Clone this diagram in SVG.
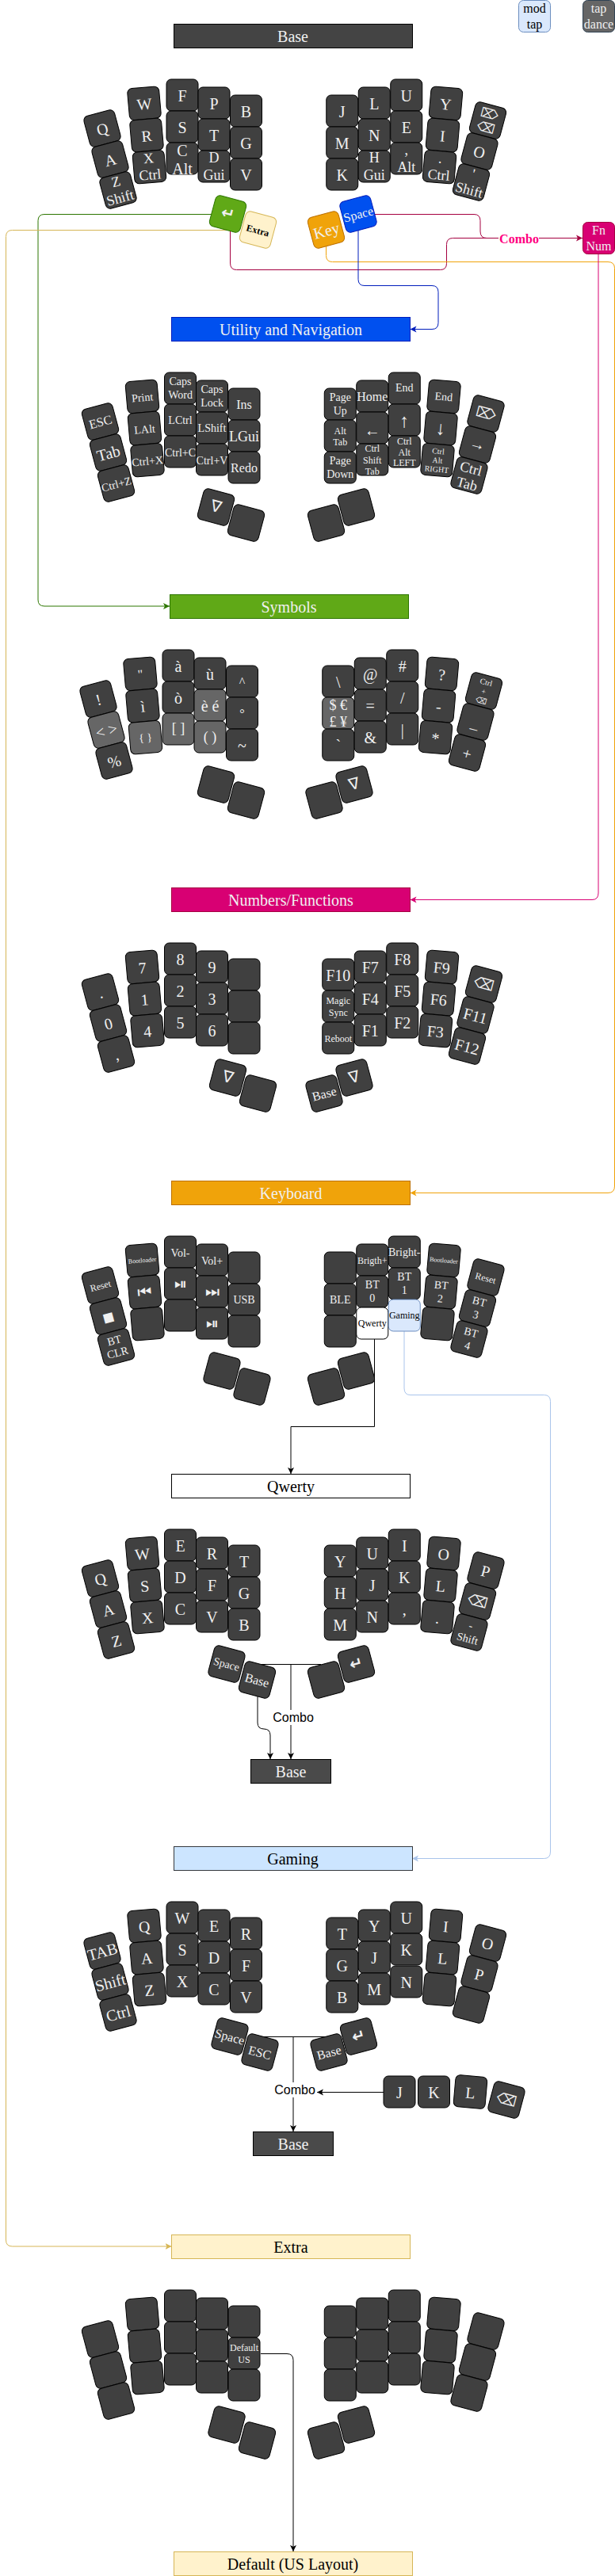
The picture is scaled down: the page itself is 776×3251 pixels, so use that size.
<svg xmlns="http://www.w3.org/2000/svg" width="776" height="3251" viewBox="0 0 776 3251">
<style>
text{font-family:"Liberation Serif","DejaVu Sans",serif;font-size:20px;fill:#f0f0f0;text-anchor:middle}
.k rect{fill:#404040;stroke:#000;stroke-width:1}
.k.lt rect{fill:#666}
.s8{font-size:8px}.s10{font-size:10px}.s12{font-size:12px}.s14{font-size:14px}.s16{font-size:16px}.s18{font-size:18px}.s24{font-size:24px}
.sym{font-family:"DejaVu Sans","Liberation Serif",sans-serif}
.b{font-weight:bold}
.blk{fill:#000}
.h rect{stroke-width:1}
#connectors path{fill:none;stroke-width:1}
.lbl{font-family:"Liberation Sans",sans-serif;font-size:16px;fill:#000}
</style>
<defs>
<marker id="a-k" markerUnits="userSpaceOnUse" markerWidth="9" markerHeight="9" refX="8" refY="4.5" orient="auto"><path d="M0 0.5L8 4.5L0 8.5L2 4.5Z" fill="#000"/></marker>
<marker id="a-g" markerUnits="userSpaceOnUse" markerWidth="9" markerHeight="9" refX="8" refY="4.5" orient="auto"><path d="M0 0.5L8 4.5L0 8.5L2 4.5Z" fill="#2d7600"/></marker>
<marker id="a-y" markerUnits="userSpaceOnUse" markerWidth="9" markerHeight="9" refX="8" refY="4.5" orient="auto"><path d="M0 0.5L8 4.5L0 8.5L2 4.5Z" fill="#d6b656"/></marker>
<marker id="a-o" markerUnits="userSpaceOnUse" markerWidth="9" markerHeight="9" refX="8" refY="4.5" orient="auto"><path d="M0 0.5L8 4.5L0 8.5L2 4.5Z" fill="#f0a30a"/></marker>
<marker id="a-u" markerUnits="userSpaceOnUse" markerWidth="9" markerHeight="9" refX="8" refY="4.5" orient="auto"><path d="M0 0.5L8 4.5L0 8.5L2 4.5Z" fill="#001dbc"/></marker>
<marker id="a-p" markerUnits="userSpaceOnUse" markerWidth="9" markerHeight="9" refX="8" refY="4.5" orient="auto"><path d="M0 0.5L8 4.5L0 8.5L2 4.5Z" fill="#a50040"/></marker>
<marker id="a-m" markerUnits="userSpaceOnUse" markerWidth="9" markerHeight="9" refX="8" refY="4.5" orient="auto"><path d="M0 0.5L8 4.5L0 8.5L2 4.5Z" fill="#d80073"/></marker>
<marker id="a-l" markerUnits="userSpaceOnUse" markerWidth="9" markerHeight="9" refX="8" refY="4.5" orient="auto"><path d="M0 0.5L8 4.5L0 8.5L2 4.5Z" fill="#a9c4eb"/></marker>
</defs>
<g id="connectors">
<path stroke="#2d7600" marker-end="url(#a-g)" d="M270 270.5H56Q48 270.5 48 278.5V757Q48 765 56 765H214"/>
<path stroke="#d6b656" marker-end="url(#a-y)" d="M295 290.5H15.5Q7.5 290.5 7.5 298.5V2827Q7.5 2835 15.5 2835H216.5"/>
<path stroke="#a50040" marker-end="url(#a-p)" d="M465 270.5H598Q606 270.5 606 278.5V292Q606 300.5 614 300.5H735"/>
<path stroke="#a50040" d="M290.5 280V332Q290.5 340.5 298.5 340.5H555.5Q563.5 340.5 563.5 332.5V308.5Q563.5 300.5 571.5 300.5H620"/>
<path stroke="#f0a30a" marker-end="url(#a-o)" d="M411.5 305V322.5Q411.5 330.5 419.5 330.5H767Q775.5 330.5 775.5 338.5V1497Q775.5 1505.5 767 1505.5H517.5"/>
<path stroke="#001dbc" marker-end="url(#a-u)" d="M452 285V352.5Q452 360.5 460 360.5H545Q553 360.5 553 368.5V407.5Q553 415.5 545 415.5H517.5"/>
<path stroke="#d80073" marker-end="url(#a-m)" d="M755 320V1127Q755 1135.5 747 1135.5H517.5"/>
<path stroke="#000" marker-end="url(#a-k)" d="M472.5 1690V1800.5H367V1860"/>
<path stroke="#a9c4eb" marker-end="url(#a-l)" d="M510 1680V1752Q510 1760.5 518 1760.5H686.5Q694.5 1760.5 694.5 1768.5V2337Q694.5 2345.5 686.5 2345.5H520"/>
<path stroke="#000" d="M330 2100.5H405"/>
<path stroke="#000" marker-end="url(#a-k)" d="M367 2100.5V2220"/>
<path stroke="#000" marker-end="url(#a-k)" d="M325 2130V2174Q325 2182 333 2182Q341 2182 341 2190V2220"/>
<path stroke="#000" d="M330 2570.5H415"/>
<path stroke="#000" marker-end="url(#a-k)" d="M370 2570.5V2690"/>
<path stroke="#000" marker-end="url(#a-k)" d="M484 2640.5H400"/>
<path stroke="#000" marker-end="url(#a-k)" d="M329 2970.5H362Q370 2970.5 370 2978.5V3220"/>
<g id="combo-pink"><rect x="629" y="290" width="51" height="20" fill="#fff"/><text class="s16 b" x="655" y="307" style="fill:#ff0080">Combo</text></g>
<g id="combo-qwerty"><rect x="343" y="2158" width="54" height="19" fill="#fff"/><text class="lbl" x="370" y="2173">Combo</text></g>
<g id="combo-gaming"><rect x="345" y="2628" width="54" height="19" fill="#fff"/><text class="lbl" x="372" y="2643">Combo</text></g>
</g>
<g id="legend-mod" class="k"><rect x="654.5" y="0.5" width="40" height="40" rx="6" style="fill:#dae8fc;stroke:#6c8ebf"/><text class="s16 blk" x="674.5" y="16">mod<tspan x="674.5" y="36">tap</tspan></text></g>
<g id="legend-dance" class="k"><rect x="735.5" y="0.5" width="40" height="40" rx="6" style="fill:#666;stroke:#314354"/><text class="s16" x="755.5" y="16">tap<tspan x="755.5" y="36">dance</tspan></text></g>
<g id="fn-num" class="k"><rect x="735.5" y="280.5" width="40" height="40" rx="6" style="fill:#d80073;stroke:#a50040"/><text class="s16" x="755.5" y="296">Fn<tspan x="755.5" y="316">Num</tspan></text></g>

<g id="h-base" class="h"><rect x="219.5" y="30.5" width="301" height="30" fill="#444" stroke="#000"/><text x="369.5" y="53">Base</text></g>
<g id="h-util" class="h"><rect x="216.5" y="400.5" width="301" height="30" fill="#0050ef" stroke="#001dbc"/><text x="367" y="423">Utility and Navigation</text></g>
<g id="h-sym" class="h"><rect x="214.5" y="750.5" width="301" height="30" fill="#60a917" stroke="#2d7600"/><text x="364.5" y="773">Symbols</text></g>
<g id="h-num" class="h"><rect x="216.5" y="1120.5" width="301" height="30" fill="#d80073" stroke="#a50040"/><text x="367" y="1143">Numbers/Functions</text></g>
<g id="h-kbd" class="h"><rect x="216.5" y="1490.5" width="301" height="30" fill="#f0a30a" stroke="#bd7000"/><text x="367" y="1513">Keyboard</text></g>
<g id="h-qwerty" class="h"><rect x="216.5" y="1860.5" width="301" height="30" fill="#fff" stroke="#000"/><text class="blk" x="367" y="1883">Qwerty</text></g>
<g id="h-qbase" class="h"><rect x="316.5" y="2220.5" width="101" height="30" fill="#4a4a4a" stroke="#000"/><text x="367" y="2243">Base</text></g>
<g id="h-gaming" class="h"><rect x="219.5" y="2330.5" width="301" height="30" fill="#cce5ff" stroke="#36393d"/><text class="blk" x="369.5" y="2353">Gaming</text></g>
<g id="h-gbase" class="h"><rect x="319.5" y="2690.5" width="101" height="30" fill="#4a4a4a" stroke="#000"/><text x="370" y="2713">Base</text></g>
<g id="h-extra" class="h"><rect x="216.5" y="2820.5" width="301" height="30" fill="#fff2cc" stroke="#d6b656"/><text class="blk" x="367" y="2843">Extra</text></g>
<g id="h-default" class="h"><rect x="219.5" y="3220.5" width="301" height="30" fill="#fff2cc" stroke="#d6b656"/><text class="blk" x="369.5" y="3243">Default (US Layout)</text></g>

<!-- BASE -->
<g id="base-left">
<g id="b-q" class="k" transform="translate(129 162) rotate(-15)"><rect x="-20" y="-20" width="40" height="40" rx="6"/><text y="8">Q</text></g>
<g id="b-a" class="k" transform="translate(139 201) rotate(-15)"><rect x="-20" y="-20" width="40" height="40" rx="6"/><text y="8">A</text></g>
<g id="b-z" class="k" transform="translate(149 240) rotate(-15)"><rect x="-20" y="-20" width="40" height="40" rx="6"/><text class="s18" y="-5">Z<tspan x="0" y="16">Shift</tspan></text></g>
<g id="b-w" class="k" transform="translate(182 130.3) rotate(-5)"><rect x="-20" y="-20" width="40" height="40" rx="6"/><text y="8">W</text></g>
<g id="b-r" class="k" transform="translate(185 170.5) rotate(-5)"><rect x="-20" y="-20" width="40" height="40" rx="6"/><text y="8">R</text></g>
<g id="b-x" class="k" transform="translate(188.5 210.7) rotate(-5)"><rect x="-20" y="-20" width="40" height="40" rx="6"/><text class="s18" y="-5">X<tspan x="0" y="16">Ctrl</tspan></text></g>
<g id="b-f" class="k" transform="translate(230 120)"><rect x="-20" y="-20" width="40" height="40" rx="6"/><text y="8">F</text></g>
<g id="b-s" class="k" transform="translate(230 160)"><rect x="-20" y="-20" width="40" height="40" rx="6"/><text y="8">S</text></g>
<g id="b-c" class="k" transform="translate(230 200)"><rect x="-20" y="-20" width="40" height="40" rx="6"/><text y="-3">C<tspan x="0" y="20">Alt</tspan></text></g>
<g id="b-p" class="k" transform="translate(270 130)"><rect x="-20" y="-20" width="40" height="40" rx="6"/><text y="8">P</text></g>
<g id="b-t" class="k" transform="translate(270 170)"><rect x="-20" y="-20" width="40" height="40" rx="6"/><text y="8">T</text></g>
<g id="b-d" class="k" transform="translate(270 210)"><rect x="-20" y="-20" width="40" height="40" rx="6"/><text class="s18" y="-5">D<tspan x="0" y="17">Gui</tspan></text></g>
<g id="b-b" class="k" transform="translate(310.5 140)"><rect x="-20" y="-20" width="40" height="40" rx="6"/><text y="8">B</text></g>
<g id="b-g" class="k" transform="translate(310.5 180)"><rect x="-20" y="-20" width="40" height="40" rx="6"/><text y="8">G</text></g>
<g id="b-v" class="k" transform="translate(310.5 220)"><rect x="-20" y="-20" width="40" height="40" rx="6"/><text y="8">V</text></g>
</g>
<g id="base-right">
<g id="b-j" class="k" transform="translate(431.75 140)"><rect x="-20" y="-20" width="40" height="40" rx="6"/><text y="8">J</text></g>
<g id="b-m" class="k" transform="translate(431.75 180)"><rect x="-20" y="-20" width="40" height="40" rx="6"/><text y="8">M</text></g>
<g id="b-k" class="k" transform="translate(431.75 220)"><rect x="-20" y="-20" width="40" height="40" rx="6"/><text y="8">K</text></g>
<g id="b-l" class="k" transform="translate(472.25 130)"><rect x="-20" y="-20" width="40" height="40" rx="6"/><text y="8">L</text></g>
<g id="b-n" class="k" transform="translate(472.25 170)"><rect x="-20" y="-20" width="40" height="40" rx="6"/><text y="8">N</text></g>
<g id="b-h" class="k" transform="translate(472.25 210)"><rect x="-20" y="-20" width="40" height="40" rx="6"/><text class="s18" y="-5">H<tspan x="0" y="17">Gui</tspan></text></g>
<g id="b-u" class="k" transform="translate(512.75 120)"><rect x="-20" y="-20" width="40" height="40" rx="6"/><text y="8">U</text></g>
<g id="b-e" class="k" transform="translate(512.75 160)"><rect x="-20" y="-20" width="40" height="40" rx="6"/><text y="8">E</text></g>
<g id="b-comma" class="k" transform="translate(512.75 200)"><rect x="-20" y="-20" width="40" height="40" rx="6"/><text class="s18" y="-5">,<tspan x="0" y="17">Alt</tspan></text></g>
<g id="b-y" class="k" transform="translate(562.5 130.3) rotate(5)"><rect x="-20" y="-20" width="40" height="40" rx="6"/><text y="8">Y</text></g>
<g id="b-i" class="k" transform="translate(558.5 170.5) rotate(5)"><rect x="-20" y="-20" width="40" height="40" rx="6"/><text y="8">I</text></g>
<g id="b-dot" class="k" transform="translate(554.5 210.7) rotate(5)"><rect x="-20" y="-20" width="40" height="40" rx="6"/><text class="s18" y="-5">.<tspan x="0" y="16">Ctrl</tspan></text></g>
<g id="b-del" class="k" transform="translate(615.5 152) rotate(15)"><rect x="-20" y="-20" width="40" height="40" rx="6"/><text class="s16 sym" y="-3">⌦<tspan x="0" y="15">⌫</tspan></text></g>
<g id="b-o" class="k" transform="translate(605 191) rotate(15)"><rect x="-20" y="-20" width="40" height="40" rx="6"/><text y="8">O</text></g>
<g id="b-apos" class="k" transform="translate(594.5 230) rotate(15)"><rect x="-20" y="-20" width="40" height="40" rx="6"/><text class="s18" y="-5">'<tspan x="0" y="16">Shift</tspan></text></g>
</g>
<g id="base-thumbs">
<g id="b-enter" class="k" transform="translate(287.5 270) rotate(15)"><rect x="-20" y="-20" width="40" height="40" rx="6" style="fill:#60a917;stroke:#2d7600"/><text class="b" y="6">↵</text></g>
<g id="b-extra" class="k" transform="translate(325.5 290) rotate(15)"><rect x="-20" y="-20" width="40" height="40" rx="6" style="fill:#fff2cc;stroke:#d6b656"/><text class="s12 b blk" y="5">Extra</text></g>
<g id="b-space" class="k" transform="translate(452 270) rotate(-15)"><rect x="-20" y="-20" width="40" height="40" rx="6" style="fill:#0050ef;stroke:#001dbc"/><text class="s16" y="6">Space</text></g>
<g id="b-key" class="k" transform="translate(411.5 290) rotate(-15)"><rect x="-20" y="-20" width="40" height="40" rx="6" style="fill:#f0a30a;stroke:#bd7000"/><text y="8">Key</text></g>
</g>

<!-- UTILITY -->
<g id="util-left" transform="translate(-2.5 370)">
<g id="u-esc" class="k" transform="translate(129 162) rotate(-15)"><rect x="-20" y="-20" width="40" height="40" rx="6"/><text class="s16" y="6">ESC</text></g>
<g id="u-tab" class="k" transform="translate(139 201) rotate(-15)"><rect x="-20" y="-20" width="40" height="40" rx="6"/><text y="8">Tab</text></g>
<g id="u-ctrlz" class="k" transform="translate(149 240) rotate(-15)"><rect x="-20" y="-20" width="40" height="40" rx="6"/><text class="s14" y="6">Ctrl+Z</text></g>
<g id="u-print" class="k" transform="translate(182 130.3) rotate(-5)"><rect x="-20" y="-20" width="40" height="40" rx="6"/><text class="s14" y="6">Print</text></g>
<g id="u-lalt" class="k" transform="translate(185 170.5) rotate(-5)"><rect x="-20" y="-20" width="40" height="40" rx="6"/><text class="s14" y="6">LAlt</text></g>
<g id="u-ctrlx" class="k" transform="translate(188.5 210.7) rotate(-5)"><rect x="-20" y="-20" width="40" height="40" rx="6"/><text class="s14" y="6">Ctrl+X</text></g>
<g id="u-capsw" class="k" transform="translate(230 120)"><rect x="-20" y="-20" width="40" height="40" rx="6"/><text class="s14" y="-4">Caps<tspan x="0" y="13">Word</tspan></text></g>
<g id="u-lctrl" class="k" transform="translate(230 160)"><rect x="-20" y="-20" width="40" height="40" rx="6"/><text class="s14" y="5">LCtrl</text></g>
<g id="u-ctrlc" class="k" transform="translate(230 200)"><rect x="-20" y="-20" width="40" height="40" rx="6"/><text class="s14" y="6">Ctrl+C</text></g>
<g id="u-capsl" class="k" transform="translate(270 130)"><rect x="-20" y="-20" width="40" height="40" rx="6"/><text class="s14" y="-4">Caps<tspan x="0" y="13">Lock</tspan></text></g>
<g id="u-lshift" class="k" transform="translate(270 170)"><rect x="-20" y="-20" width="40" height="40" rx="6"/><text class="s14" y="5">LShift</text></g>
<g id="u-ctrlv" class="k" transform="translate(270 210)"><rect x="-20" y="-20" width="40" height="40" rx="6"/><text class="s14" y="6">Ctrl+V</text></g>
<g id="u-ins" class="k" transform="translate(310.5 140)"><rect x="-20" y="-20" width="40" height="40" rx="6"/><text class="s16" y="6">Ins</text></g>
<g id="u-lgui" class="k" transform="translate(310.5 180)"><rect x="-20" y="-20" width="40" height="40" rx="6"/><text class="s18" y="7">LGui</text></g>
<g id="u-redo" class="k" transform="translate(310.5 220)"><rect x="-20" y="-20" width="40" height="40" rx="6"/><text class="s16" y="6">Redo</text></g>
</g>
<g id="util-right" transform="translate(-2.5 370)">
<g id="u-pgup" class="k" transform="translate(431.75 140)"><rect x="-20" y="-20" width="40" height="40" rx="6"/><text class="s14" y="-4">Page<tspan x="0" y="13">Up</tspan></text></g>
<g id="u-alttab" class="k" transform="translate(431.75 180)"><rect x="-20" y="-20" width="40" height="40" rx="6"/><text class="s12" y="-2">Alt<tspan x="0" y="12">Tab</tspan></text></g>
<g id="u-pgdn" class="k" transform="translate(431.75 220)"><rect x="-20" y="-20" width="40" height="40" rx="6"/><text class="s14" y="-4">Page<tspan x="0" y="13">Down</tspan></text></g>
<g id="u-home" class="k" transform="translate(472.25 130)"><rect x="-20" y="-20" width="40" height="40" rx="6"/><text class="s16" y="6">Home</text></g>
<g id="u-left" class="k" transform="translate(472.25 170)"><rect x="-20" y="-20" width="40" height="40" rx="6"/><text y="10">←</text></g>
<g id="u-cst" class="k" transform="translate(472.25 210)"><rect x="-20" y="-20" width="40" height="40" rx="6"/><text class="s12" y="-10">Ctrl<tspan x="0" y="4.5">Shift</tspan><tspan x="0" y="19">Tab</tspan></text></g>
<g id="u-end1" class="k" transform="translate(512.75 120)"><rect x="-20" y="-20" width="40" height="40" rx="6"/><text class="s14" y="4">End</text></g>
<g id="u-up" class="k" transform="translate(512.75 160)"><rect x="-20" y="-20" width="40" height="40" rx="6"/><text class="s24" y="9">↑</text></g>
<g id="u-cal" class="k" transform="translate(512.75 200)"><rect x="-20" y="-20" width="40" height="40" rx="6"/><text class="s12" y="-9">Ctrl<tspan x="0" y="4.5">Alt</tspan><tspan x="0" y="17.5">LEFT</tspan></text></g>
<g id="u-end2" class="k" transform="translate(562.5 130.3) rotate(5)"><rect x="-20" y="-20" width="40" height="40" rx="6"/><text class="s14" y="5">End</text></g>
<g id="u-down" class="k" transform="translate(558.5 170.5) rotate(5)"><rect x="-20" y="-20" width="40" height="40" rx="6"/><text class="s24" y="8">↓</text></g>
<g id="u-car" class="k" transform="translate(554.5 210.7) rotate(5)"><rect x="-20" y="-20" width="40" height="40" rx="6"/><text class="s10" y="-8">Ctrl<tspan x="0" y="3.5">Alt</tspan><tspan x="0" y="15">RIGHT</tspan></text></g>
<g id="u-del" class="k" transform="translate(615.5 152) rotate(15)"><rect x="-20" y="-20" width="40" height="40" rx="6"/><text class="s18 sym" y="6">⌦</text></g>
<g id="u-right" class="k" transform="translate(605 191) rotate(15)"><rect x="-20" y="-20" width="40" height="40" rx="6"/><text y="6">→</text></g>
<g id="u-ctrltab" class="k" transform="translate(594.5 230) rotate(15)"><rect x="-20" y="-20" width="40" height="40" rx="6"/><text class="s18" y="-3">Ctrl<tspan x="0" y="17">Tab</tspan></text></g>
</g>
<g id="util-thumbs">
<g id="u-t1" class="k" transform="translate(272.5 640) rotate(15)"><rect x="-20" y="-20" width="40" height="40" rx="6"/><text y="6">∇</text></g>
<g id="u-t2" class="k" transform="translate(310.5 660) rotate(15)"><rect x="-20" y="-20" width="40" height="40" rx="6"/></g>
<g id="u-t3" class="k" transform="translate(449.5 640) rotate(-15)"><rect x="-20" y="-20" width="40" height="40" rx="6"/></g>
<g id="u-t4" class="k" transform="translate(411.5 660) rotate(-15)"><rect x="-20" y="-20" width="40" height="40" rx="6"/></g>
</g>

<!-- SYMBOLS -->
<g id="sym-left" transform="translate(-5 720)">
<g id="s-excl" class="k" transform="translate(129 162) rotate(-15)"><rect x="-20" y="-20" width="40" height="40" rx="6"/><text y="8">!</text></g>
<g id="s-angle" class="k lt" transform="translate(139 201) rotate(-15)"><rect x="-20" y="-20" width="40" height="40" rx="6"/><text y="8">&lt; &gt;</text></g>
<g id="s-pct" class="k" transform="translate(149 240) rotate(-15)"><rect x="-20" y="-20" width="40" height="40" rx="6"/><text y="8">%</text></g>
<g id="s-quot" class="k" transform="translate(182 130.3) rotate(-5)"><rect x="-20" y="-20" width="40" height="40" rx="6"/><text class="s16" y="6">"</text></g>
<g id="s-igrave" class="k" transform="translate(185 170.5) rotate(-5)"><rect x="-20" y="-20" width="40" height="40" rx="6"/><text y="8">ì</text></g>
<g id="s-brace" class="k lt" transform="translate(188.5 210.7) rotate(-5)"><rect x="-20" y="-20" width="40" height="40" rx="6"/><text class="s14" y="5">{ }</text></g>
<g id="s-agrave" class="k" transform="translate(230 120)"><rect x="-20" y="-20" width="40" height="40" rx="6"/><text y="8">à</text></g>
<g id="s-ograve" class="k" transform="translate(230 160)"><rect x="-20" y="-20" width="40" height="40" rx="6"/><text y="8">ò</text></g>
<g id="s-brack" class="k lt" transform="translate(230 200)"><rect x="-20" y="-20" width="40" height="40" rx="6"/><text class="s18" y="5">[ ]</text></g>
<g id="s-ugrave" class="k" transform="translate(270 130)"><rect x="-20" y="-20" width="40" height="40" rx="6"/><text y="8">ù</text></g>
<g id="s-egrave" class="k lt" transform="translate(270 170)"><rect x="-20" y="-20" width="40" height="40" rx="6"/><text y="8">è é</text></g>
<g id="s-paren" class="k lt" transform="translate(270 210)"><rect x="-20" y="-20" width="40" height="40" rx="6"/><text class="s18" y="6">( )</text></g>
<g id="s-caret" class="k" transform="translate(310.5 140)"><rect x="-20" y="-20" width="40" height="40" rx="6"/><text class="s16" y="6">^</text></g>
<g id="s-deg" class="k" transform="translate(310.5 180)"><rect x="-20" y="-20" width="40" height="40" rx="6"/><text class="s16" y="6">°</text></g>
<g id="s-tilde" class="k" transform="translate(310.5 220)"><rect x="-20" y="-20" width="40" height="40" rx="6"/><text y="8">~</text></g>
</g>
<g id="sym-right" transform="translate(-5 720)">
<g id="s-bsl" class="k" transform="translate(431.75 140)"><rect x="-20" y="-20" width="40" height="40" rx="6"/><text y="8">\</text></g>
<g id="s-cur" class="k lt" transform="translate(431.75 180)"><rect x="-20" y="-20" width="40" height="40" rx="6"/><text class="s18" y="-4">$ €<tspan x="0" y="17">£ ¥</tspan></text></g>
<g id="s-tick" class="k" transform="translate(431.75 220)"><rect x="-20" y="-20" width="40" height="40" rx="6"/><text y="8">`</text></g>
<g id="s-at" class="k" transform="translate(472.25 130)"><rect x="-20" y="-20" width="40" height="40" rx="6"/><text y="8">@</text></g>
<g id="s-eq" class="k" transform="translate(472.25 170)"><rect x="-20" y="-20" width="40" height="40" rx="6"/><text y="8">=</text></g>
<g id="s-amp" class="k" transform="translate(472.25 210)"><rect x="-20" y="-20" width="40" height="40" rx="6"/><text y="8">&amp;</text></g>
<g id="s-hash" class="k" transform="translate(512.75 120)"><rect x="-20" y="-20" width="40" height="40" rx="6"/><text y="8">#</text></g>
<g id="s-sl" class="k" transform="translate(512.75 160)"><rect x="-20" y="-20" width="40" height="40" rx="6"/><text y="8">/</text></g>
<g id="s-pipe" class="k" transform="translate(512.75 200)"><rect x="-20" y="-20" width="40" height="40" rx="6"/><text y="8">|</text></g>
<g id="s-q" class="k" transform="translate(562.5 130.3) rotate(5)"><rect x="-20" y="-20" width="40" height="40" rx="6"/><text y="8">?</text></g>
<g id="s-minus" class="k" transform="translate(558.5 170.5) rotate(5)"><rect x="-20" y="-20" width="40" height="40" rx="6"/><text y="8">-</text></g>
<g id="s-star" class="k" transform="translate(554.5 210.7) rotate(5)"><rect x="-20" y="-20" width="40" height="40" rx="6"/><text y="8">*</text></g>
<g id="s-cbs" class="k" transform="translate(615.5 152) rotate(15)"><rect x="-20" y="-20" width="40" height="40" rx="6"/><text class="s10" y="-8">Ctrl<tspan x="0" y="4">+</tspan><tspan class="sym" x="0" y="16">⌫</tspan></text></g>
<g id="s-under" class="k" transform="translate(605 191) rotate(15)"><rect x="-20" y="-20" width="40" height="40" rx="6"/><text y="8">_</text></g>
<g id="s-plus" class="k" transform="translate(594.5 230) rotate(15)"><rect x="-20" y="-20" width="40" height="40" rx="6"/><text y="8">+</text></g>
</g>
<g id="sym-thumbs">
<g id="s-t1" class="k" transform="translate(272.5 990) rotate(15)"><rect x="-20" y="-20" width="40" height="40" rx="6"/></g>
<g id="s-t2" class="k" transform="translate(310.5 1010) rotate(15)"><rect x="-20" y="-20" width="40" height="40" rx="6"/></g>
<g id="s-t3" class="k" transform="translate(447 990) rotate(-15)"><rect x="-20" y="-20" width="40" height="40" rx="6"/><text y="6">∇</text></g>
<g id="s-t4" class="k" transform="translate(409 1010) rotate(-15)"><rect x="-20" y="-20" width="40" height="40" rx="6"/></g>
</g>

<!-- NUMBERS -->
<g id="num-left" transform="translate(-2.5 1090)">
<g id="n-dot" class="k" transform="translate(129 162) rotate(-15)"><rect x="-20" y="-20" width="40" height="40" rx="6"/><text y="8">.</text></g>
<g id="n-0" class="k" transform="translate(139 201) rotate(-15)"><rect x="-20" y="-20" width="40" height="40" rx="6"/><text y="8">0</text></g>
<g id="n-comma" class="k" transform="translate(149 240) rotate(-15)"><rect x="-20" y="-20" width="40" height="40" rx="6"/><text y="8">,</text></g>
<g id="n-7" class="k" transform="translate(182 130.3) rotate(-5)"><rect x="-20" y="-20" width="40" height="40" rx="6"/><text y="8">7</text></g>
<g id="n-1" class="k" transform="translate(185 170.5) rotate(-5)"><rect x="-20" y="-20" width="40" height="40" rx="6"/><text y="8">1</text></g>
<g id="n-4" class="k" transform="translate(188.5 210.7) rotate(-5)"><rect x="-20" y="-20" width="40" height="40" rx="6"/><text y="8">4</text></g>
<g id="n-8" class="k" transform="translate(230 120)"><rect x="-20" y="-20" width="40" height="40" rx="6"/><text y="8">8</text></g>
<g id="n-2" class="k" transform="translate(230 160)"><rect x="-20" y="-20" width="40" height="40" rx="6"/><text y="8">2</text></g>
<g id="n-5" class="k" transform="translate(230 200)"><rect x="-20" y="-20" width="40" height="40" rx="6"/><text y="8">5</text></g>
<g id="n-9" class="k" transform="translate(270 130)"><rect x="-20" y="-20" width="40" height="40" rx="6"/><text y="8">9</text></g>
<g id="n-3" class="k" transform="translate(270 170)"><rect x="-20" y="-20" width="40" height="40" rx="6"/><text y="8">3</text></g>
<g id="n-6" class="k" transform="translate(270 210)"><rect x="-20" y="-20" width="40" height="40" rx="6"/><text y="8">6</text></g>
<g id="n-e1" class="k" transform="translate(310.5 140)"><rect x="-20" y="-20" width="40" height="40" rx="6"/></g>
<g id="n-e2" class="k" transform="translate(310.5 180)"><rect x="-20" y="-20" width="40" height="40" rx="6"/></g>
<g id="n-e3" class="k" transform="translate(310.5 220)"><rect x="-20" y="-20" width="40" height="40" rx="6"/></g>
</g>
<g id="num-right" transform="translate(-5 1090)">
<g id="n-f10" class="k" transform="translate(431.75 140)"><rect x="-20" y="-20" width="40" height="40" rx="6"/><text y="8">F10</text></g>
<g id="n-magic" class="k" transform="translate(431.75 180)"><rect x="-20" y="-20" width="40" height="40" rx="6"/><text class="s12" y="-3">Magic<tspan x="0" y="12">Sync</tspan></text></g>
<g id="n-reboot" class="k" transform="translate(431.75 220)"><rect x="-20" y="-20" width="40" height="40" rx="6"/><text class="s12" y="5">Reboot</text></g>
<g id="n-f7" class="k" transform="translate(472.25 130)"><rect x="-20" y="-20" width="40" height="40" rx="6"/><text y="8">F7</text></g>
<g id="n-f4" class="k" transform="translate(472.25 170)"><rect x="-20" y="-20" width="40" height="40" rx="6"/><text y="8">F4</text></g>
<g id="n-f1" class="k" transform="translate(472.25 210)"><rect x="-20" y="-20" width="40" height="40" rx="6"/><text y="8">F1</text></g>
<g id="n-f8" class="k" transform="translate(512.75 120)"><rect x="-20" y="-20" width="40" height="40" rx="6"/><text y="8">F8</text></g>
<g id="n-f5" class="k" transform="translate(512.75 160)"><rect x="-20" y="-20" width="40" height="40" rx="6"/><text y="8">F5</text></g>
<g id="n-f2" class="k" transform="translate(512.75 200)"><rect x="-20" y="-20" width="40" height="40" rx="6"/><text y="8">F2</text></g>
<g id="n-f9" class="k" transform="translate(562.5 130.3) rotate(5)"><rect x="-20" y="-20" width="40" height="40" rx="6"/><text y="8">F9</text></g>
<g id="n-f6" class="k" transform="translate(558.5 170.5) rotate(5)"><rect x="-20" y="-20" width="40" height="40" rx="6"/><text y="8">F6</text></g>
<g id="n-f3" class="k" transform="translate(554.5 210.7) rotate(5)"><rect x="-20" y="-20" width="40" height="40" rx="6"/><text y="8">F3</text></g>
<g id="n-bs" class="k" transform="translate(615.5 152) rotate(15)"><rect x="-20" y="-20" width="40" height="40" rx="6"/><text class="s18 sym" y="6">⌫</text></g>
<g id="n-f11" class="k" transform="translate(605 191) rotate(15)"><rect x="-20" y="-20" width="40" height="40" rx="6"/><text y="8">F11</text></g>
<g id="n-f12" class="k" transform="translate(594.5 230) rotate(15)"><rect x="-20" y="-20" width="40" height="40" rx="6"/><text y="8">F12</text></g>
</g>
<g id="num-thumbs">
<g id="n-t1" class="k" transform="translate(287.5 1360) rotate(15)"><rect x="-20" y="-20" width="40" height="40" rx="6"/><text y="6">∇</text></g>
<g id="n-t2" class="k" transform="translate(325.5 1380) rotate(15)"><rect x="-20" y="-20" width="40" height="40" rx="6"/></g>
<g id="n-t3" class="k" transform="translate(447 1360) rotate(-15)"><rect x="-20" y="-20" width="40" height="40" rx="6"/><text y="6">∇</text></g>
<g id="n-t4" class="k" transform="translate(409 1380) rotate(-15)"><rect x="-20" y="-20" width="40" height="40" rx="6"/><text class="s16" y="6">Base</text></g>
</g>

<!-- KEYBOARD -->
<g id="kbd-left" transform="translate(-2.5 1460)">
<g id="k-reset1" class="k" transform="translate(129 162) rotate(-15)"><rect x="-20" y="-20" width="40" height="40" rx="6"/><text class="s12" y="5">Reset</text></g>
<g id="k-stop" class="k" transform="translate(139 201) rotate(-15)"><rect x="-20" y="-20" width="40" height="40" rx="6"/><text class="s18 sym" y="7">◼</text></g>
<g id="k-btclr" class="k" transform="translate(149 240) rotate(-15)"><rect x="-20" y="-20" width="40" height="40" rx="6"/><text class="s14" y="-4">BT<tspan x="0" y="12">CLR</tspan></text></g>
<g id="k-boot1" class="k" transform="translate(182 130.3) rotate(-5)"><rect x="-20" y="-20" width="40" height="40" rx="6"/><text class="s8" y="3">Bootloader</text></g>
<g id="k-prev" class="k" transform="translate(185 170.5) rotate(-5)"><rect x="-20" y="-20" width="40" height="40" rx="6"/><text class="sym" y="7">⏮</text></g>
<g id="k-e1" class="k" transform="translate(188.5 210.7) rotate(-5)"><rect x="-20" y="-20" width="40" height="40" rx="6"/></g>
<g id="k-vold" class="k" transform="translate(230 120)"><rect x="-20" y="-20" width="40" height="40" rx="6"/><text class="s14" y="6">Vol-</text></g>
<g id="k-play1" class="k" transform="translate(230 160)"><rect x="-20" y="-20" width="40" height="40" rx="6"/><text class="sym" y="7">⏯</text></g>
<g id="k-e2" class="k" transform="translate(230 200)"><rect x="-20" y="-20" width="40" height="40" rx="6"/></g>
<g id="k-volu" class="k" transform="translate(270 130)"><rect x="-20" y="-20" width="40" height="40" rx="6"/><text class="s14" y="6">Vol+</text></g>
<g id="k-next" class="k" transform="translate(270 170)"><rect x="-20" y="-20" width="40" height="40" rx="6"/><text class="sym" y="7">⏭</text></g>
<g id="k-play2" class="k" transform="translate(270 210)"><rect x="-20" y="-20" width="40" height="40" rx="6"/><text class="sym" y="7">⏯</text></g>
<g id="k-e3" class="k" transform="translate(310.5 140)"><rect x="-20" y="-20" width="40" height="40" rx="6"/></g>
<g id="k-usb" class="k" transform="translate(310.5 180)"><rect x="-20" y="-20" width="40" height="40" rx="6"/><text class="s14" y="5">USB</text></g>
<g id="k-e4" class="k" transform="translate(310.5 220)"><rect x="-20" y="-20" width="40" height="40" rx="6"/></g>
</g>
<g id="kbd-right" transform="translate(-2.5 1460)">
<g id="k-e5" class="k" transform="translate(431.75 140)"><rect x="-20" y="-20" width="40" height="40" rx="6"/></g>
<g id="k-ble" class="k" transform="translate(431.75 180)"><rect x="-20" y="-20" width="40" height="40" rx="6"/><text class="s14" y="5">BLE</text></g>
<g id="k-e6" class="k" transform="translate(431.75 220)"><rect x="-20" y="-20" width="40" height="40" rx="6"/></g>
<g id="k-brup" class="k" transform="translate(472.25 130)"><rect x="-20" y="-20" width="40" height="40" rx="6"/><text class="s12" y="5">Brigth+</text></g>
<g id="k-bt0" class="k" transform="translate(472.25 170)"><rect x="-20" y="-20" width="40" height="40" rx="6"/><text class="s14" y="-4">BT<tspan x="0" y="13">0</tspan></text></g>
<g id="k-qwerty" class="k" transform="translate(472.25 210)"><rect x="-20" y="-20" width="40" height="40" rx="6" style="fill:#fff"/><text class="s12 blk" y="4">Qwerty</text></g>
<g id="k-brdn" class="k" transform="translate(512.75 120)"><rect x="-20" y="-20" width="40" height="40" rx="6"/><text class="s14" y="5">Bright-</text></g>
<g id="k-bt1" class="k" transform="translate(512.75 160)"><rect x="-20" y="-20" width="40" height="40" rx="6"/><text class="s14" y="-4">BT<tspan x="0" y="13">1</tspan></text></g>
<g id="k-gaming" class="k" transform="translate(512.75 200)"><rect x="-20" y="-20" width="40" height="40" rx="6" style="fill:#dae8fc;stroke:#6c8ebf"/><text class="s12 blk" y="4">Gaming</text></g>
<g id="k-boot2" class="k" transform="translate(562.5 130.3) rotate(5)"><rect x="-20" y="-20" width="40" height="40" rx="6"/><text class="s8" y="3">Bootloader</text></g>
<g id="k-bt2" class="k" transform="translate(558.5 170.5) rotate(5)"><rect x="-20" y="-20" width="40" height="40" rx="6"/><text class="s14" y="-4">BT<tspan x="0" y="13">2</tspan></text></g>
<g id="k-e7" class="k" transform="translate(554.5 210.7) rotate(5)"><rect x="-20" y="-20" width="40" height="40" rx="6"/></g>
<g id="k-reset2" class="k" transform="translate(615.5 152) rotate(15)"><rect x="-20" y="-20" width="40" height="40" rx="6"/><text class="s12" y="5">Reset</text></g>
<g id="k-bt3" class="k" transform="translate(605 191) rotate(15)"><rect x="-20" y="-20" width="40" height="40" rx="6"/><text class="s14" y="-4">BT<tspan x="0" y="13">3</tspan></text></g>
<g id="k-bt4" class="k" transform="translate(594.5 230) rotate(15)"><rect x="-20" y="-20" width="40" height="40" rx="6"/><text class="s14" y="-4">BT<tspan x="0" y="13">4</tspan></text></g>
</g>
<g id="kbd-thumbs">
<g id="k-t1" class="k" transform="translate(280 1730) rotate(15)"><rect x="-20" y="-20" width="40" height="40" rx="6"/></g>
<g id="k-t2" class="k" transform="translate(318 1750) rotate(15)"><rect x="-20" y="-20" width="40" height="40" rx="6"/></g>
<g id="k-t3" class="k" transform="translate(449.5 1730) rotate(-15)"><rect x="-20" y="-20" width="40" height="40" rx="6"/></g>
<g id="k-t4" class="k" transform="translate(411.5 1750) rotate(-15)"><rect x="-20" y="-20" width="40" height="40" rx="6"/></g>
</g>

<!-- QWERTY -->
<g id="qw-left" transform="translate(-2.5 1830)">
<g id="q-q" class="k" transform="translate(129 162) rotate(-15)"><rect x="-20" y="-20" width="40" height="40" rx="6"/><text y="8">Q</text></g>
<g id="q-a" class="k" transform="translate(139 201) rotate(-15)"><rect x="-20" y="-20" width="40" height="40" rx="6"/><text y="8">A</text></g>
<g id="q-z" class="k" transform="translate(149 240) rotate(-15)"><rect x="-20" y="-20" width="40" height="40" rx="6"/><text y="8">Z</text></g>
<g id="q-w" class="k" transform="translate(182 130.3) rotate(-5)"><rect x="-20" y="-20" width="40" height="40" rx="6"/><text y="8">W</text></g>
<g id="q-s" class="k" transform="translate(185 170.5) rotate(-5)"><rect x="-20" y="-20" width="40" height="40" rx="6"/><text y="8">S</text></g>
<g id="q-x" class="k" transform="translate(188.5 210.7) rotate(-5)"><rect x="-20" y="-20" width="40" height="40" rx="6"/><text y="8">X</text></g>
<g id="q-e" class="k" transform="translate(230 120)"><rect x="-20" y="-20" width="40" height="40" rx="6"/><text y="8">E</text></g>
<g id="q-d" class="k" transform="translate(230 160)"><rect x="-20" y="-20" width="40" height="40" rx="6"/><text y="8">D</text></g>
<g id="q-c" class="k" transform="translate(230 200)"><rect x="-20" y="-20" width="40" height="40" rx="6"/><text y="8">C</text></g>
<g id="q-r" class="k" transform="translate(270 130)"><rect x="-20" y="-20" width="40" height="40" rx="6"/><text y="8">R</text></g>
<g id="q-f" class="k" transform="translate(270 170)"><rect x="-20" y="-20" width="40" height="40" rx="6"/><text y="8">F</text></g>
<g id="q-v" class="k" transform="translate(270 210)"><rect x="-20" y="-20" width="40" height="40" rx="6"/><text y="8">V</text></g>
<g id="q-t" class="k" transform="translate(310.5 140)"><rect x="-20" y="-20" width="40" height="40" rx="6"/><text y="8">T</text></g>
<g id="q-g" class="k" transform="translate(310.5 180)"><rect x="-20" y="-20" width="40" height="40" rx="6"/><text y="8">G</text></g>
<g id="q-b" class="k" transform="translate(310.5 220)"><rect x="-20" y="-20" width="40" height="40" rx="6"/><text y="8">B</text></g>
</g>
<g id="qw-right" transform="translate(-2.5 1830)">
<g id="q-y" class="k" transform="translate(431.75 140)"><rect x="-20" y="-20" width="40" height="40" rx="6"/><text y="8">Y</text></g>
<g id="q-h" class="k" transform="translate(431.75 180)"><rect x="-20" y="-20" width="40" height="40" rx="6"/><text y="8">H</text></g>
<g id="q-m" class="k" transform="translate(431.75 220)"><rect x="-20" y="-20" width="40" height="40" rx="6"/><text y="8">M</text></g>
<g id="q-u" class="k" transform="translate(472.25 130)"><rect x="-20" y="-20" width="40" height="40" rx="6"/><text y="8">U</text></g>
<g id="q-j" class="k" transform="translate(472.25 170)"><rect x="-20" y="-20" width="40" height="40" rx="6"/><text y="8">J</text></g>
<g id="q-n" class="k" transform="translate(472.25 210)"><rect x="-20" y="-20" width="40" height="40" rx="6"/><text y="8">N</text></g>
<g id="q-i" class="k" transform="translate(512.75 120)"><rect x="-20" y="-20" width="40" height="40" rx="6"/><text y="8">I</text></g>
<g id="q-k" class="k" transform="translate(512.75 160)"><rect x="-20" y="-20" width="40" height="40" rx="6"/><text y="8">K</text></g>
<g id="q-comma" class="k" transform="translate(512.75 200)"><rect x="-20" y="-20" width="40" height="40" rx="6"/><text y="8">,</text></g>
<g id="q-o" class="k" transform="translate(562.5 130.3) rotate(5)"><rect x="-20" y="-20" width="40" height="40" rx="6"/><text y="8">O</text></g>
<g id="q-l" class="k" transform="translate(558.5 170.5) rotate(5)"><rect x="-20" y="-20" width="40" height="40" rx="6"/><text y="8">L</text></g>
<g id="q-dot" class="k" transform="translate(554.5 210.7) rotate(5)"><rect x="-20" y="-20" width="40" height="40" rx="6"/><text y="8">.</text></g>
<g id="q-p" class="k" transform="translate(615.5 152) rotate(15)"><rect x="-20" y="-20" width="40" height="40" rx="6"/><text y="8">P</text></g>
<g id="q-bs" class="k" transform="translate(605 191) rotate(15)"><rect x="-20" y="-20" width="40" height="40" rx="6"/><text class="s18 sym" y="6">⌫</text></g>
<g id="q-shift" class="k" transform="translate(594.5 230) rotate(15)"><rect x="-20" y="-20" width="40" height="40" rx="6"/><text class="s14" y="-4">-<tspan x="0" y="13">Shift</tspan></text></g>
</g>
<g id="qw-thumbs">
<g id="q-t1" class="k" transform="translate(286 2100) rotate(15)"><rect x="-20" y="-20" width="40" height="40" rx="6"/><text class="s14" y="5">Space</text></g>
<g id="q-t2" class="k" transform="translate(324.5 2120) rotate(15)"><rect x="-20" y="-20" width="40" height="40" rx="6"/><text class="s16" y="6">Base</text></g>
<g id="q-t3" class="k" transform="translate(449.5 2100) rotate(-15)"><rect x="-20" y="-20" width="40" height="40" rx="6"/><text class="b" y="6">↵</text></g>
<g id="q-t4" class="k" transform="translate(411.5 2120) rotate(-15)"><rect x="-20" y="-20" width="40" height="40" rx="6"/></g>
</g>

<!-- GAMING -->
<g id="gm-left" transform="translate(0 2300)">
<g id="g-tab" class="k" transform="translate(129 162) rotate(-15)"><rect x="-20" y="-20" width="40" height="40" rx="6"/><text y="8">TAB</text></g>
<g id="g-shift" class="k" transform="translate(139 201) rotate(-15)"><rect x="-20" y="-20" width="40" height="40" rx="6"/><text y="8">Shift</text></g>
<g id="g-ctrl" class="k" transform="translate(149 240) rotate(-15)"><rect x="-20" y="-20" width="40" height="40" rx="6"/><text y="8">Ctrl</text></g>
<g id="g-q" class="k" transform="translate(182 130.3) rotate(-5)"><rect x="-20" y="-20" width="40" height="40" rx="6"/><text y="8">Q</text></g>
<g id="g-a" class="k" transform="translate(185 170.5) rotate(-5)"><rect x="-20" y="-20" width="40" height="40" rx="6"/><text y="8">A</text></g>
<g id="g-z" class="k" transform="translate(188.5 210.7) rotate(-5)"><rect x="-20" y="-20" width="40" height="40" rx="6"/><text y="8">Z</text></g>
<g id="g-w" class="k" transform="translate(230 120)"><rect x="-20" y="-20" width="40" height="40" rx="6"/><text y="8">W</text></g>
<g id="g-s" class="k" transform="translate(230 160)"><rect x="-20" y="-20" width="40" height="40" rx="6"/><text y="8">S</text></g>
<g id="g-x" class="k" transform="translate(230 200)"><rect x="-20" y="-20" width="40" height="40" rx="6"/><text y="8">X</text></g>
<g id="g-e" class="k" transform="translate(270 130)"><rect x="-20" y="-20" width="40" height="40" rx="6"/><text y="8">E</text></g>
<g id="g-d" class="k" transform="translate(270 170)"><rect x="-20" y="-20" width="40" height="40" rx="6"/><text y="8">D</text></g>
<g id="g-c" class="k" transform="translate(270 210)"><rect x="-20" y="-20" width="40" height="40" rx="6"/><text y="8">C</text></g>
<g id="g-r" class="k" transform="translate(310.5 140)"><rect x="-20" y="-20" width="40" height="40" rx="6"/><text y="8">R</text></g>
<g id="g-f" class="k" transform="translate(310.5 180)"><rect x="-20" y="-20" width="40" height="40" rx="6"/><text y="8">F</text></g>
<g id="g-v" class="k" transform="translate(310.5 220)"><rect x="-20" y="-20" width="40" height="40" rx="6"/><text y="8">V</text></g>
</g>
<g id="gm-right" transform="translate(0 2300)">
<g id="g-t" class="k" transform="translate(431.75 140)"><rect x="-20" y="-20" width="40" height="40" rx="6"/><text y="8">T</text></g>
<g id="g-g" class="k" transform="translate(431.75 180)"><rect x="-20" y="-20" width="40" height="40" rx="6"/><text y="8">G</text></g>
<g id="g-b" class="k" transform="translate(431.75 220)"><rect x="-20" y="-20" width="40" height="40" rx="6"/><text y="8">B</text></g>
<g id="g-y" class="k" transform="translate(472.25 130)"><rect x="-20" y="-20" width="40" height="40" rx="6"/><text y="8">Y</text></g>
<g id="g-j" class="k" transform="translate(472.25 170)"><rect x="-20" y="-20" width="40" height="40" rx="6"/><text y="8">J</text></g>
<g id="g-m" class="k" transform="translate(472.25 210)"><rect x="-20" y="-20" width="40" height="40" rx="6"/><text y="8">M</text></g>
<g id="g-u" class="k" transform="translate(512.75 120)"><rect x="-20" y="-20" width="40" height="40" rx="6"/><text y="8">U</text></g>
<g id="g-k" class="k" transform="translate(512.75 160)"><rect x="-20" y="-20" width="40" height="40" rx="6"/><text y="8">K</text></g>
<g id="g-n" class="k" transform="translate(512.75 201)"><rect x="-20" y="-20" width="40" height="40" rx="6"/><text y="8">N</text></g>
<g id="g-i" class="k" transform="translate(562.5 130.3) rotate(5)"><rect x="-20" y="-20" width="40" height="40" rx="6"/><text y="8">I</text></g>
<g id="g-l" class="k" transform="translate(558.5 170.5) rotate(5)"><rect x="-20" y="-20" width="40" height="40" rx="6"/><text y="8">L</text></g>
<g id="g-e8" class="k" transform="translate(554.5 210.7) rotate(5)"><rect x="-20" y="-20" width="40" height="40" rx="6"/></g>
<g id="g-o" class="k" transform="translate(615.5 152) rotate(15)"><rect x="-20" y="-20" width="40" height="40" rx="6"/><text y="8">O</text></g>
<g id="g-p" class="k" transform="translate(605 191) rotate(15)"><rect x="-20" y="-20" width="40" height="40" rx="6"/><text y="8">P</text></g>
<g id="g-e9" class="k" transform="translate(594.5 230) rotate(15)"><rect x="-20" y="-20" width="40" height="40" rx="6"/></g>
</g>
<g id="gm-thumbs">
<g id="g-t1" class="k" transform="translate(290 2570) rotate(15)"><rect x="-20" y="-20" width="40" height="40" rx="6"/><text class="s16" y="6">Space</text></g>
<g id="g-t2" class="k" transform="translate(328 2590) rotate(15)"><rect x="-20" y="-20" width="40" height="40" rx="6"/><text class="s16" y="6">ESC</text></g>
<g id="g-t3" class="k" transform="translate(452.5 2570) rotate(-15)"><rect x="-20" y="-20" width="40" height="40" rx="6"/><text class="b" y="6">↵</text></g>
<g id="g-t4" class="k" transform="translate(415 2590) rotate(-15)"><rect x="-20" y="-20" width="40" height="40" rx="6"/><text class="s16" y="6">Base</text></g>
</g>
<g id="gm-combo">
<g id="g-cj" class="k" transform="translate(504 2640)"><rect x="-20" y="-20" width="40" height="40" rx="6"/><text y="8">J</text></g>
<g id="g-ck" class="k" transform="translate(547.5 2640)"><rect x="-20" y="-20" width="40" height="40" rx="6"/><text y="8">K</text></g>
<g id="g-cl" class="k" transform="translate(593.5 2640) rotate(5)"><rect x="-20" y="-20" width="40" height="40" rx="6"/><text y="8">L</text></g>
<g id="g-cbs" class="k" transform="translate(639 2650) rotate(15)"><rect x="-20" y="-20" width="40" height="40" rx="6"/><text class="s18 sym" y="6">⌫</text></g>
</g>

<!-- EXTRA -->
<g id="ex-left" transform="translate(-2.5 2790)">
<g id="x-l11" class="k" transform="translate(129 162) rotate(-15)"><rect x="-20" y="-20" width="40" height="40" rx="6"/></g>
<g id="x-l12" class="k" transform="translate(139 201) rotate(-15)"><rect x="-20" y="-20" width="40" height="40" rx="6"/></g>
<g id="x-l13" class="k" transform="translate(149 240) rotate(-15)"><rect x="-20" y="-20" width="40" height="40" rx="6"/></g>
<g id="x-l21" class="k" transform="translate(182 130.3) rotate(-5)"><rect x="-20" y="-20" width="40" height="40" rx="6"/></g>
<g id="x-l22" class="k" transform="translate(185 170.5) rotate(-5)"><rect x="-20" y="-20" width="40" height="40" rx="6"/></g>
<g id="x-l23" class="k" transform="translate(188.5 210.7) rotate(-5)"><rect x="-20" y="-20" width="40" height="40" rx="6"/></g>
<g id="x-l31" class="k" transform="translate(230 120)"><rect x="-20" y="-20" width="40" height="40" rx="6"/></g>
<g id="x-l32" class="k" transform="translate(230 160)"><rect x="-20" y="-20" width="40" height="40" rx="6"/></g>
<g id="x-l33" class="k" transform="translate(230 200)"><rect x="-20" y="-20" width="40" height="40" rx="6"/></g>
<g id="x-l41" class="k" transform="translate(270 130)"><rect x="-20" y="-20" width="40" height="40" rx="6"/></g>
<g id="x-l42" class="k" transform="translate(270 170)"><rect x="-20" y="-20" width="40" height="40" rx="6"/></g>
<g id="x-l43" class="k" transform="translate(270 210)"><rect x="-20" y="-20" width="40" height="40" rx="6"/></g>
<g id="x-l51" class="k" transform="translate(310.5 140)"><rect x="-20" y="-20" width="40" height="40" rx="6"/></g>
<g id="x-default" class="k" transform="translate(310.5 180)"><rect x="-20" y="-20" width="40" height="40" rx="6"/><text class="s12" y="-3">Default<tspan x="0" y="12">US</tspan></text></g>
<g id="x-l53" class="k" transform="translate(310.5 220)"><rect x="-20" y="-20" width="40" height="40" rx="6"/></g>
</g>
<g id="ex-right" transform="translate(-2.5 2790)">
<g id="x-r11" class="k" transform="translate(431.75 140)"><rect x="-20" y="-20" width="40" height="40" rx="6"/></g>
<g id="x-r12" class="k" transform="translate(431.75 180)"><rect x="-20" y="-20" width="40" height="40" rx="6"/></g>
<g id="x-r13" class="k" transform="translate(431.75 220)"><rect x="-20" y="-20" width="40" height="40" rx="6"/></g>
<g id="x-r21" class="k" transform="translate(472.25 130)"><rect x="-20" y="-20" width="40" height="40" rx="6"/></g>
<g id="x-r22" class="k" transform="translate(472.25 170)"><rect x="-20" y="-20" width="40" height="40" rx="6"/></g>
<g id="x-r23" class="k" transform="translate(472.25 210)"><rect x="-20" y="-20" width="40" height="40" rx="6"/></g>
<g id="x-r31" class="k" transform="translate(512.75 120)"><rect x="-20" y="-20" width="40" height="40" rx="6"/></g>
<g id="x-r32" class="k" transform="translate(512.75 160)"><rect x="-20" y="-20" width="40" height="40" rx="6"/></g>
<g id="x-r33" class="k" transform="translate(512.75 200)"><rect x="-20" y="-20" width="40" height="40" rx="6"/></g>
<g id="x-r41" class="k" transform="translate(562.5 130.3) rotate(5)"><rect x="-20" y="-20" width="40" height="40" rx="6"/></g>
<g id="x-r42" class="k" transform="translate(558.5 170.5) rotate(5)"><rect x="-20" y="-20" width="40" height="40" rx="6"/></g>
<g id="x-r43" class="k" transform="translate(554.5 210.7) rotate(5)"><rect x="-20" y="-20" width="40" height="40" rx="6"/></g>
<g id="x-r51" class="k" transform="translate(615.5 152) rotate(15)"><rect x="-20" y="-20" width="40" height="40" rx="6"/></g>
<g id="x-r52" class="k" transform="translate(605 191) rotate(15)"><rect x="-20" y="-20" width="40" height="40" rx="6"/></g>
<g id="x-r53" class="k" transform="translate(594.5 230) rotate(15)"><rect x="-20" y="-20" width="40" height="40" rx="6"/></g>
</g>
<g id="ex-thumbs">
<g id="x-t1" class="k" transform="translate(286 3060) rotate(15)"><rect x="-20" y="-20" width="40" height="40" rx="6"/></g>
<g id="x-t2" class="k" transform="translate(324.5 3080) rotate(15)"><rect x="-20" y="-20" width="40" height="40" rx="6"/></g>
<g id="x-t3" class="k" transform="translate(449.5 3060) rotate(-15)"><rect x="-20" y="-20" width="40" height="40" rx="6"/></g>
<g id="x-t4" class="k" transform="translate(411.5 3080) rotate(-15)"><rect x="-20" y="-20" width="40" height="40" rx="6"/></g>
</g>
</svg>
